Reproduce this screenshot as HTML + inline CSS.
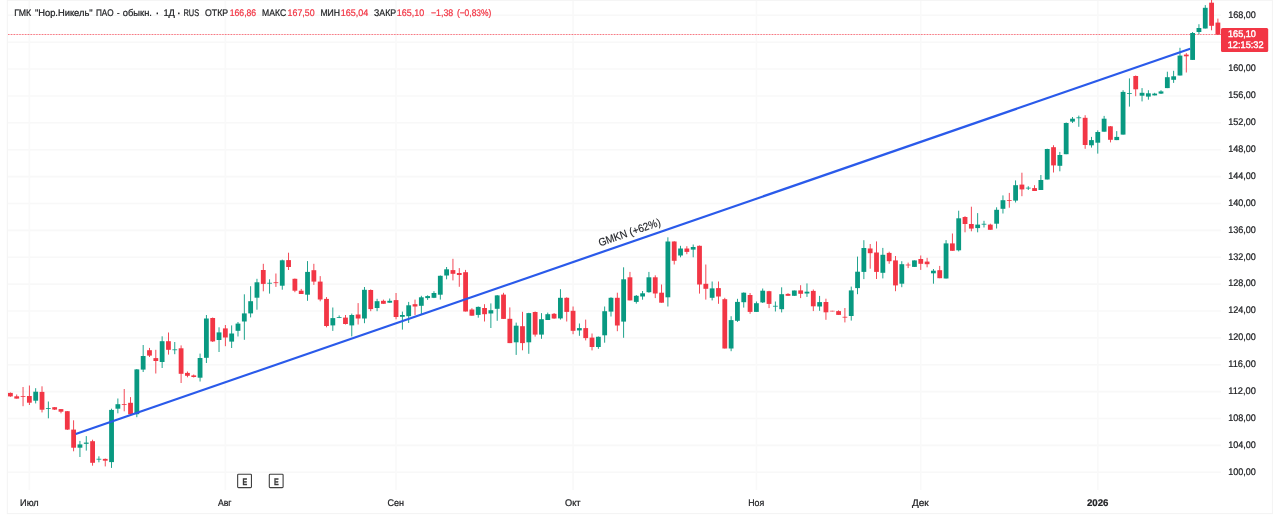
<!DOCTYPE html>
<html lang="ru"><head><meta charset="utf-8"><title>GMKN</title>
<style>html,body{margin:0;padding:0;background:#fff;}body{width:1280px;height:520px;overflow:hidden;}svg{display:block;}text{font-family:"Liberation Sans", sans-serif;text-rendering:geometricPrecision;}</style></head><body>
<svg width="1280" height="520" viewBox="0 0 1280 520">
<rect x="0" y="0" width="1280" height="520" fill="#ffffff"/>
<rect x="7.3" y="0.3" width="1265.1" height="513.3" fill="none" stroke="#f3f3f3" stroke-width="1"/>
<g stroke="#f8f8f8" stroke-width="1.6"><line x1="8" y1="472.26" x2="1221" y2="472.26"/><line x1="8" y1="445.38" x2="1221" y2="445.38"/><line x1="8" y1="418.50" x2="1221" y2="418.50"/><line x1="8" y1="391.62" x2="1221" y2="391.62"/><line x1="8" y1="364.74" x2="1221" y2="364.74"/><line x1="8" y1="337.86" x2="1221" y2="337.86"/><line x1="8" y1="310.98" x2="1221" y2="310.98"/><line x1="8" y1="284.10" x2="1221" y2="284.10"/><line x1="8" y1="257.22" x2="1221" y2="257.22"/><line x1="8" y1="230.34" x2="1221" y2="230.34"/><line x1="8" y1="203.46" x2="1221" y2="203.46"/><line x1="8" y1="176.58" x2="1221" y2="176.58"/><line x1="8" y1="149.70" x2="1221" y2="149.70"/><line x1="8" y1="122.82" x2="1221" y2="122.82"/><line x1="8" y1="95.94" x2="1221" y2="95.94"/><line x1="8" y1="69.06" x2="1221" y2="69.06"/><line x1="8" y1="42.18" x2="1221" y2="42.18"/><line x1="8" y1="15.30" x2="1221" y2="15.30"/></g>
<g stroke="#f9f9f9" stroke-width="1.6"><line x1="29.37" y1="1" x2="29.37" y2="490"/><line x1="225.35" y1="1" x2="225.35" y2="490"/><line x1="396.04" y1="1" x2="396.04" y2="490"/><line x1="573.06" y1="1" x2="573.06" y2="490"/><line x1="756.40" y1="1" x2="756.40" y2="490"/><line x1="920.77" y1="1" x2="920.77" y2="490"/><line x1="1097.78" y1="1" x2="1097.78" y2="490"/></g>
<line x1="8" y1="34.5" x2="1221" y2="34.5" stroke="#f23645" stroke-width="1" stroke-dasharray="0.775 0.775" opacity="0.85"/>
<g>
<rect x="9.95" y="392.50" width="0.90" height="4.30" fill="#f23645"/>
<rect x="8.00" y="392.90" width="4.80" height="3.50" fill="#f23645"/>
<rect x="16.27" y="394.50" width="0.90" height="4.10" fill="#f23645"/>
<rect x="14.32" y="396.30" width="4.80" height="2.30" fill="#f23645"/>
<rect x="22.59" y="387.00" width="0.90" height="19.20" fill="#f23645"/>
<rect x="20.64" y="396.00" width="4.80" height="0.80" fill="#f23645"/>
<rect x="28.92" y="385.50" width="0.90" height="19.50" fill="#f23645"/>
<rect x="26.97" y="396.00" width="4.80" height="6.70" fill="#f23645"/>
<rect x="35.24" y="388.20" width="0.90" height="15.20" fill="#089981"/>
<rect x="33.29" y="391.70" width="4.80" height="9.00" fill="#089981"/>
<rect x="41.56" y="386.30" width="0.90" height="26.10" fill="#f23645"/>
<rect x="39.61" y="391.90" width="4.80" height="17.80" fill="#f23645"/>
<rect x="47.88" y="401.50" width="0.90" height="16.80" fill="#089981"/>
<rect x="45.93" y="408.10" width="4.80" height="0.80" fill="#089981"/>
<rect x="54.20" y="407.00" width="0.90" height="3.00" fill="#f23645"/>
<rect x="52.25" y="407.20" width="4.80" height="2.40" fill="#f23645"/>
<rect x="60.53" y="409.00" width="0.90" height="4.30" fill="#f23645"/>
<rect x="58.58" y="409.10" width="4.80" height="2.60" fill="#f23645"/>
<rect x="66.85" y="411.00" width="0.90" height="19.00" fill="#f23645"/>
<rect x="64.90" y="411.20" width="4.80" height="18.40" fill="#f23645"/>
<rect x="73.17" y="420.30" width="0.90" height="31.00" fill="#f23645"/>
<rect x="71.22" y="429.60" width="4.80" height="18.10" fill="#f23645"/>
<rect x="79.49" y="440.90" width="0.90" height="16.10" fill="#089981"/>
<rect x="77.54" y="444.40" width="4.80" height="3.30" fill="#089981"/>
<rect x="85.81" y="436.10" width="0.90" height="14.50" fill="#089981"/>
<rect x="83.86" y="442.60" width="4.80" height="1.20" fill="#089981"/>
<rect x="92.14" y="439.70" width="0.90" height="26.00" fill="#f23645"/>
<rect x="90.19" y="441.20" width="4.80" height="21.60" fill="#f23645"/>
<rect x="98.46" y="456.30" width="0.90" height="6.00" fill="#089981"/>
<rect x="96.51" y="458.80" width="4.80" height="0.80" fill="#089981"/>
<rect x="104.78" y="458.50" width="0.90" height="7.90" fill="#f23645"/>
<rect x="102.83" y="458.90" width="4.80" height="1.80" fill="#f23645"/>
<rect x="111.10" y="408.70" width="0.90" height="59.20" fill="#089981"/>
<rect x="109.15" y="409.90" width="4.80" height="52.20" fill="#089981"/>
<rect x="117.42" y="398.50" width="0.90" height="14.80" fill="#089981"/>
<rect x="115.47" y="404.20" width="4.80" height="4.50" fill="#089981"/>
<rect x="123.75" y="389.00" width="0.90" height="22.30" fill="#f23645"/>
<rect x="121.80" y="404.00" width="4.80" height="0.80" fill="#f23645"/>
<rect x="130.07" y="397.10" width="0.90" height="17.40" fill="#f23645"/>
<rect x="128.12" y="402.80" width="4.80" height="11.50" fill="#f23645"/>
<rect x="136.39" y="369.00" width="0.90" height="48.20" fill="#089981"/>
<rect x="134.44" y="369.40" width="4.80" height="44.80" fill="#089981"/>
<rect x="142.71" y="345.00" width="0.90" height="27.00" fill="#089981"/>
<rect x="140.76" y="356.00" width="4.80" height="13.60" fill="#089981"/>
<rect x="149.03" y="347.90" width="0.90" height="9.10" fill="#f23645"/>
<rect x="147.08" y="350.20" width="4.80" height="5.40" fill="#f23645"/>
<rect x="155.36" y="349.80" width="0.90" height="23.70" fill="#f23645"/>
<rect x="153.41" y="358.10" width="4.80" height="2.90" fill="#f23645"/>
<rect x="161.68" y="336.30" width="0.90" height="31.70" fill="#089981"/>
<rect x="159.73" y="341.20" width="4.80" height="20.80" fill="#089981"/>
<rect x="168.00" y="332.50" width="0.90" height="22.10" fill="#f23645"/>
<rect x="166.05" y="341.20" width="4.80" height="8.60" fill="#f23645"/>
<rect x="174.32" y="342.00" width="0.90" height="12.20" fill="#089981"/>
<rect x="172.37" y="349.40" width="4.80" height="0.80" fill="#089981"/>
<rect x="180.64" y="345.40" width="0.90" height="37.60" fill="#f23645"/>
<rect x="178.69" y="348.30" width="4.80" height="25.50" fill="#f23645"/>
<rect x="186.97" y="371.50" width="0.90" height="5.80" fill="#f23645"/>
<rect x="185.02" y="372.90" width="4.80" height="2.90" fill="#f23645"/>
<rect x="193.29" y="374.50" width="0.90" height="3.00" fill="#f23645"/>
<rect x="191.34" y="375.40" width="4.80" height="1.60" fill="#f23645"/>
<rect x="199.61" y="353.60" width="0.90" height="27.90" fill="#089981"/>
<rect x="197.66" y="358.00" width="4.80" height="19.70" fill="#089981"/>
<rect x="205.93" y="315.00" width="0.90" height="48.00" fill="#089981"/>
<rect x="203.98" y="318.50" width="4.80" height="39.30" fill="#089981"/>
<rect x="212.25" y="317.50" width="0.90" height="24.50" fill="#f23645"/>
<rect x="210.30" y="318.00" width="4.80" height="23.40" fill="#f23645"/>
<rect x="218.58" y="327.30" width="0.90" height="24.70" fill="#089981"/>
<rect x="216.63" y="332.40" width="4.80" height="7.60" fill="#089981"/>
<rect x="224.90" y="325.00" width="0.90" height="21.20" fill="#f23645"/>
<rect x="222.95" y="328.40" width="4.80" height="9.10" fill="#f23645"/>
<rect x="231.22" y="325.40" width="0.90" height="22.60" fill="#089981"/>
<rect x="229.27" y="333.50" width="4.80" height="8.10" fill="#089981"/>
<rect x="237.54" y="322.00" width="0.90" height="14.50" fill="#089981"/>
<rect x="235.59" y="323.60" width="4.80" height="7.20" fill="#089981"/>
<rect x="243.86" y="294.30" width="0.90" height="45.50" fill="#089981"/>
<rect x="241.91" y="313.40" width="4.80" height="8.10" fill="#089981"/>
<rect x="250.19" y="286.20" width="0.90" height="31.20" fill="#089981"/>
<rect x="248.24" y="301.20" width="4.80" height="12.20" fill="#089981"/>
<rect x="256.51" y="278.80" width="0.90" height="30.90" fill="#089981"/>
<rect x="254.56" y="282.30" width="4.80" height="15.40" fill="#089981"/>
<rect x="262.83" y="263.80" width="0.90" height="27.50" fill="#f23645"/>
<rect x="260.88" y="270.00" width="4.80" height="13.90" fill="#f23645"/>
<rect x="269.15" y="279.30" width="0.90" height="14.30" fill="#089981"/>
<rect x="267.20" y="282.80" width="4.80" height="0.80" fill="#089981"/>
<rect x="275.47" y="273.50" width="0.90" height="13.40" fill="#f23645"/>
<rect x="273.52" y="282.30" width="4.80" height="0.80" fill="#f23645"/>
<rect x="281.80" y="259.60" width="0.90" height="30.10" fill="#089981"/>
<rect x="279.85" y="260.30" width="4.80" height="25.40" fill="#089981"/>
<rect x="288.12" y="252.70" width="0.90" height="17.30" fill="#f23645"/>
<rect x="286.17" y="260.10" width="4.80" height="6.90" fill="#f23645"/>
<rect x="294.44" y="278.50" width="0.90" height="13.70" fill="#f23645"/>
<rect x="292.49" y="278.80" width="4.80" height="11.90" fill="#f23645"/>
<rect x="300.76" y="288.90" width="0.90" height="5.10" fill="#f23645"/>
<rect x="298.81" y="290.70" width="4.80" height="3.30" fill="#f23645"/>
<rect x="307.08" y="261.10" width="0.90" height="39.70" fill="#089981"/>
<rect x="305.13" y="271.90" width="4.80" height="22.80" fill="#089981"/>
<rect x="313.41" y="263.80" width="0.90" height="21.10" fill="#f23645"/>
<rect x="311.46" y="270.20" width="4.80" height="11.40" fill="#f23645"/>
<rect x="319.73" y="276.10" width="0.90" height="25.20" fill="#f23645"/>
<rect x="317.78" y="281.60" width="4.80" height="17.90" fill="#f23645"/>
<rect x="326.05" y="297.10" width="0.90" height="30.20" fill="#f23645"/>
<rect x="324.10" y="298.90" width="4.80" height="27.10" fill="#f23645"/>
<rect x="332.37" y="307.50" width="0.90" height="23.40" fill="#089981"/>
<rect x="330.42" y="318.10" width="4.80" height="7.30" fill="#089981"/>
<rect x="338.69" y="315.40" width="0.90" height="2.70" fill="#089981"/>
<rect x="336.74" y="317.20" width="4.80" height="0.80" fill="#089981"/>
<rect x="345.02" y="315.00" width="0.90" height="9.50" fill="#f23645"/>
<rect x="343.07" y="317.60" width="4.80" height="6.40" fill="#f23645"/>
<rect x="351.34" y="313.60" width="0.90" height="22.80" fill="#089981"/>
<rect x="349.39" y="315.00" width="4.80" height="10.40" fill="#089981"/>
<rect x="357.66" y="303.10" width="0.90" height="21.40" fill="#f23645"/>
<rect x="355.71" y="314.50" width="4.80" height="4.00" fill="#f23645"/>
<rect x="363.98" y="287.00" width="0.90" height="36.20" fill="#089981"/>
<rect x="362.03" y="289.80" width="4.80" height="28.70" fill="#089981"/>
<rect x="370.30" y="289.40" width="0.90" height="21.80" fill="#f23645"/>
<rect x="368.35" y="290.00" width="4.80" height="19.10" fill="#f23645"/>
<rect x="376.63" y="298.80" width="0.90" height="12.40" fill="#089981"/>
<rect x="374.68" y="301.20" width="4.80" height="6.80" fill="#089981"/>
<rect x="382.95" y="299.60" width="0.90" height="4.20" fill="#f23645"/>
<rect x="381.00" y="300.80" width="4.80" height="3.00" fill="#f23645"/>
<rect x="389.27" y="298.50" width="0.90" height="4.20" fill="#089981"/>
<rect x="387.32" y="300.80" width="4.80" height="1.90" fill="#089981"/>
<rect x="395.59" y="293.00" width="0.90" height="26.30" fill="#f23645"/>
<rect x="393.64" y="300.10" width="4.80" height="16.90" fill="#f23645"/>
<rect x="401.91" y="311.60" width="0.90" height="18.00" fill="#089981"/>
<rect x="399.96" y="315.00" width="4.80" height="1.80" fill="#089981"/>
<rect x="408.24" y="301.90" width="0.90" height="21.10" fill="#089981"/>
<rect x="406.29" y="305.30" width="4.80" height="10.90" fill="#089981"/>
<rect x="414.56" y="299.60" width="0.90" height="15.40" fill="#f23645"/>
<rect x="412.61" y="304.20" width="4.80" height="2.30" fill="#f23645"/>
<rect x="420.88" y="295.80" width="0.90" height="18.40" fill="#089981"/>
<rect x="418.93" y="297.30" width="4.80" height="8.50" fill="#089981"/>
<rect x="427.20" y="295.30" width="0.90" height="4.60" fill="#089981"/>
<rect x="425.25" y="296.10" width="4.80" height="2.00" fill="#089981"/>
<rect x="433.52" y="291.20" width="0.90" height="6.90" fill="#089981"/>
<rect x="431.57" y="293.00" width="4.80" height="4.80" fill="#089981"/>
<rect x="439.85" y="275.50" width="0.90" height="24.10" fill="#089981"/>
<rect x="437.90" y="275.80" width="4.80" height="18.90" fill="#089981"/>
<rect x="446.17" y="267.00" width="0.90" height="12.30" fill="#089981"/>
<rect x="444.22" y="269.30" width="4.80" height="6.20" fill="#089981"/>
<rect x="452.49" y="258.80" width="0.90" height="21.60" fill="#f23645"/>
<rect x="450.54" y="270.10" width="4.80" height="3.70" fill="#f23645"/>
<rect x="458.81" y="268.10" width="0.90" height="18.70" fill="#f23645"/>
<rect x="456.86" y="273.00" width="4.80" height="2.00" fill="#f23645"/>
<rect x="465.13" y="269.90" width="0.90" height="41.60" fill="#f23645"/>
<rect x="463.18" y="272.20" width="4.80" height="39.30" fill="#f23645"/>
<rect x="471.46" y="308.20" width="0.90" height="7.50" fill="#f23645"/>
<rect x="469.51" y="309.50" width="4.80" height="6.20" fill="#f23645"/>
<rect x="477.78" y="306.50" width="0.90" height="11.20" fill="#089981"/>
<rect x="475.83" y="306.90" width="4.80" height="8.00" fill="#089981"/>
<rect x="484.10" y="304.20" width="0.90" height="17.30" fill="#f23645"/>
<rect x="482.15" y="308.00" width="4.80" height="6.20" fill="#f23645"/>
<rect x="490.42" y="303.40" width="0.90" height="24.60" fill="#089981"/>
<rect x="488.47" y="310.20" width="4.80" height="3.30" fill="#089981"/>
<rect x="496.74" y="295.00" width="0.90" height="25.80" fill="#089981"/>
<rect x="494.79" y="295.40" width="4.80" height="13.40" fill="#089981"/>
<rect x="503.07" y="292.80" width="0.90" height="26.10" fill="#f23645"/>
<rect x="501.12" y="294.60" width="4.80" height="24.30" fill="#f23645"/>
<rect x="509.39" y="307.40" width="0.90" height="35.70" fill="#f23645"/>
<rect x="507.44" y="318.80" width="4.80" height="24.30" fill="#f23645"/>
<rect x="515.71" y="322.60" width="0.90" height="32.30" fill="#089981"/>
<rect x="513.76" y="325.70" width="4.80" height="16.60" fill="#089981"/>
<rect x="522.03" y="311.80" width="0.90" height="38.50" fill="#f23645"/>
<rect x="520.08" y="326.20" width="4.80" height="16.90" fill="#f23645"/>
<rect x="528.35" y="312.80" width="0.90" height="41.00" fill="#089981"/>
<rect x="526.40" y="313.10" width="4.80" height="29.20" fill="#089981"/>
<rect x="534.68" y="311.50" width="0.90" height="25.10" fill="#f23645"/>
<rect x="532.73" y="312.00" width="4.80" height="22.60" fill="#f23645"/>
<rect x="541.00" y="313.10" width="0.90" height="25.70" fill="#089981"/>
<rect x="539.05" y="319.20" width="4.80" height="15.40" fill="#089981"/>
<rect x="547.32" y="312.60" width="0.90" height="7.40" fill="#089981"/>
<rect x="545.37" y="314.20" width="4.80" height="5.80" fill="#089981"/>
<rect x="553.64" y="313.00" width="0.90" height="5.80" fill="#f23645"/>
<rect x="551.69" y="313.80" width="4.80" height="4.70" fill="#f23645"/>
<rect x="559.96" y="289.20" width="0.90" height="30.40" fill="#089981"/>
<rect x="558.01" y="297.80" width="4.80" height="20.60" fill="#089981"/>
<rect x="566.29" y="297.30" width="0.90" height="24.20" fill="#f23645"/>
<rect x="564.34" y="297.80" width="4.80" height="14.10" fill="#f23645"/>
<rect x="572.61" y="306.50" width="0.90" height="27.70" fill="#f23645"/>
<rect x="570.66" y="310.80" width="4.80" height="20.00" fill="#f23645"/>
<rect x="578.93" y="323.50" width="0.90" height="12.30" fill="#089981"/>
<rect x="576.98" y="328.10" width="4.80" height="2.30" fill="#089981"/>
<rect x="585.25" y="319.60" width="0.90" height="20.80" fill="#f23645"/>
<rect x="583.30" y="328.10" width="4.80" height="10.00" fill="#f23645"/>
<rect x="591.57" y="333.50" width="0.90" height="16.90" fill="#f23645"/>
<rect x="589.62" y="337.60" width="4.80" height="9.40" fill="#f23645"/>
<rect x="597.90" y="336.50" width="0.90" height="12.30" fill="#089981"/>
<rect x="595.95" y="336.80" width="4.80" height="10.20" fill="#089981"/>
<rect x="604.22" y="306.50" width="0.90" height="36.20" fill="#089981"/>
<rect x="602.27" y="311.20" width="4.80" height="24.10" fill="#089981"/>
<rect x="610.54" y="297.30" width="0.90" height="19.20" fill="#089981"/>
<rect x="608.59" y="297.80" width="4.80" height="13.80" fill="#089981"/>
<rect x="616.86" y="292.70" width="0.90" height="38.50" fill="#f23645"/>
<rect x="614.91" y="297.80" width="4.80" height="27.70" fill="#f23645"/>
<rect x="623.18" y="267.30" width="0.90" height="70.50" fill="#089981"/>
<rect x="621.23" y="279.30" width="4.80" height="42.30" fill="#089981"/>
<rect x="629.51" y="271.90" width="0.90" height="28.50" fill="#f23645"/>
<rect x="627.56" y="277.30" width="4.80" height="23.10" fill="#f23645"/>
<rect x="635.83" y="295.00" width="0.90" height="8.60" fill="#089981"/>
<rect x="633.88" y="295.80" width="4.80" height="6.10" fill="#089981"/>
<rect x="642.15" y="291.00" width="0.90" height="8.70" fill="#089981"/>
<rect x="640.20" y="293.30" width="4.80" height="3.20" fill="#089981"/>
<rect x="648.47" y="271.90" width="0.90" height="20.80" fill="#089981"/>
<rect x="646.52" y="277.30" width="4.80" height="14.90" fill="#089981"/>
<rect x="654.79" y="275.30" width="0.90" height="22.80" fill="#f23645"/>
<rect x="652.84" y="277.30" width="4.80" height="16.20" fill="#f23645"/>
<rect x="661.12" y="284.50" width="0.90" height="18.20" fill="#f23645"/>
<rect x="659.17" y="292.70" width="4.80" height="10.00" fill="#f23645"/>
<rect x="667.44" y="237.30" width="0.90" height="69.20" fill="#089981"/>
<rect x="665.49" y="241.50" width="4.80" height="55.80" fill="#089981"/>
<rect x="673.76" y="241.20" width="0.90" height="23.30" fill="#f23645"/>
<rect x="671.81" y="241.50" width="4.80" height="19.30" fill="#f23645"/>
<rect x="680.08" y="245.80" width="0.90" height="11.50" fill="#089981"/>
<rect x="678.13" y="248.50" width="4.80" height="7.00" fill="#089981"/>
<rect x="686.40" y="246.20" width="0.90" height="8.00" fill="#f23645"/>
<rect x="684.45" y="248.50" width="4.80" height="3.40" fill="#f23645"/>
<rect x="692.73" y="244.50" width="0.90" height="12.80" fill="#089981"/>
<rect x="690.78" y="247.00" width="4.80" height="2.60" fill="#089981"/>
<rect x="699.05" y="245.50" width="0.90" height="48.10" fill="#f23645"/>
<rect x="697.10" y="245.80" width="4.80" height="38.70" fill="#f23645"/>
<rect x="705.37" y="264.50" width="0.90" height="35.10" fill="#f23645"/>
<rect x="703.42" y="283.80" width="4.80" height="5.00" fill="#f23645"/>
<rect x="711.69" y="281.50" width="0.90" height="18.90" fill="#089981"/>
<rect x="709.74" y="288.40" width="4.80" height="9.40" fill="#089981"/>
<rect x="718.01" y="281.50" width="0.90" height="22.30" fill="#f23645"/>
<rect x="716.06" y="288.10" width="4.80" height="8.40" fill="#f23645"/>
<rect x="724.34" y="297.80" width="0.90" height="50.70" fill="#f23645"/>
<rect x="722.39" y="299.20" width="4.80" height="49.30" fill="#f23645"/>
<rect x="730.66" y="316.20" width="0.90" height="35.00" fill="#089981"/>
<rect x="728.71" y="320.10" width="4.80" height="28.40" fill="#089981"/>
<rect x="736.98" y="298.80" width="0.90" height="23.10" fill="#089981"/>
<rect x="735.03" y="301.90" width="4.80" height="18.90" fill="#089981"/>
<rect x="743.30" y="292.40" width="0.90" height="15.20" fill="#089981"/>
<rect x="741.35" y="292.70" width="4.80" height="9.50" fill="#089981"/>
<rect x="749.62" y="293.00" width="0.90" height="20.80" fill="#f23645"/>
<rect x="747.67" y="295.00" width="4.80" height="16.90" fill="#f23645"/>
<rect x="755.95" y="301.50" width="0.90" height="10.40" fill="#089981"/>
<rect x="754.00" y="303.20" width="4.80" height="8.70" fill="#089981"/>
<rect x="762.27" y="288.50" width="0.90" height="14.50" fill="#089981"/>
<rect x="760.32" y="290.70" width="4.80" height="11.70" fill="#089981"/>
<rect x="768.59" y="290.80" width="0.90" height="17.30" fill="#f23645"/>
<rect x="766.64" y="291.20" width="4.80" height="12.70" fill="#f23645"/>
<rect x="774.91" y="301.50" width="0.90" height="10.00" fill="#089981"/>
<rect x="772.96" y="305.80" width="4.80" height="0.80" fill="#089981"/>
<rect x="781.23" y="287.30" width="0.90" height="25.10" fill="#089981"/>
<rect x="779.28" y="294.20" width="4.80" height="15.00" fill="#089981"/>
<rect x="787.56" y="293.20" width="0.90" height="2.60" fill="#f23645"/>
<rect x="785.61" y="293.90" width="4.80" height="1.90" fill="#f23645"/>
<rect x="793.88" y="290.50" width="0.90" height="5.40" fill="#089981"/>
<rect x="791.93" y="290.50" width="4.80" height="5.30" fill="#089981"/>
<rect x="800.20" y="285.20" width="0.90" height="12.90" fill="#f23645"/>
<rect x="798.25" y="290.40" width="4.80" height="3.40" fill="#f23645"/>
<rect x="806.52" y="283.40" width="0.90" height="13.50" fill="#089981"/>
<rect x="804.57" y="291.70" width="4.80" height="1.80" fill="#089981"/>
<rect x="812.84" y="289.50" width="0.90" height="21.60" fill="#f23645"/>
<rect x="810.89" y="290.90" width="4.80" height="15.40" fill="#f23645"/>
<rect x="819.17" y="295.90" width="0.90" height="14.90" fill="#089981"/>
<rect x="817.22" y="302.10" width="4.80" height="4.40" fill="#089981"/>
<rect x="825.49" y="298.70" width="0.90" height="21.10" fill="#f23645"/>
<rect x="823.54" y="302.00" width="4.80" height="10.30" fill="#f23645"/>
<rect x="831.81" y="310.80" width="0.90" height="0.60" fill="#f23645"/>
<rect x="829.86" y="310.80" width="4.80" height="0.60" fill="#f23645"/>
<rect x="838.13" y="310.30" width="0.90" height="4.60" fill="#f23645"/>
<rect x="836.18" y="311.10" width="4.80" height="3.80" fill="#f23645"/>
<rect x="844.45" y="308.00" width="0.90" height="14.40" fill="#f23645"/>
<rect x="842.50" y="316.80" width="4.80" height="0.80" fill="#f23645"/>
<rect x="850.78" y="286.60" width="0.90" height="34.00" fill="#089981"/>
<rect x="848.83" y="290.40" width="4.80" height="25.60" fill="#089981"/>
<rect x="857.10" y="256.60" width="0.90" height="37.60" fill="#089981"/>
<rect x="855.15" y="271.70" width="4.80" height="16.40" fill="#089981"/>
<rect x="863.42" y="240.20" width="0.90" height="38.90" fill="#089981"/>
<rect x="861.47" y="248.00" width="4.80" height="23.90" fill="#089981"/>
<rect x="869.74" y="244.00" width="0.90" height="24.70" fill="#f23645"/>
<rect x="867.79" y="248.50" width="4.80" height="4.70" fill="#f23645"/>
<rect x="876.06" y="241.40" width="0.90" height="37.60" fill="#f23645"/>
<rect x="874.11" y="252.50" width="4.80" height="19.40" fill="#f23645"/>
<rect x="882.39" y="247.90" width="0.90" height="30.50" fill="#089981"/>
<rect x="880.44" y="254.80" width="4.80" height="18.00" fill="#089981"/>
<rect x="888.71" y="251.70" width="0.90" height="12.10" fill="#f23645"/>
<rect x="886.76" y="252.90" width="4.80" height="8.30" fill="#f23645"/>
<rect x="895.03" y="256.00" width="0.90" height="35.20" fill="#f23645"/>
<rect x="893.08" y="260.40" width="4.80" height="25.00" fill="#f23645"/>
<rect x="901.35" y="261.20" width="0.90" height="26.00" fill="#089981"/>
<rect x="899.40" y="264.20" width="4.80" height="19.50" fill="#089981"/>
<rect x="907.67" y="262.60" width="0.90" height="5.50" fill="#f23645"/>
<rect x="905.72" y="264.60" width="4.80" height="0.80" fill="#f23645"/>
<rect x="914.00" y="260.40" width="0.90" height="6.50" fill="#089981"/>
<rect x="912.05" y="260.40" width="4.80" height="6.50" fill="#089981"/>
<rect x="920.32" y="255.50" width="0.90" height="14.40" fill="#f23645"/>
<rect x="918.37" y="259.00" width="4.80" height="4.80" fill="#f23645"/>
<rect x="926.64" y="257.80" width="0.90" height="9.50" fill="#f23645"/>
<rect x="924.69" y="261.60" width="4.80" height="2.60" fill="#f23645"/>
<rect x="932.96" y="269.00" width="0.90" height="14.70" fill="#089981"/>
<rect x="931.01" y="270.70" width="4.80" height="2.60" fill="#089981"/>
<rect x="939.28" y="265.90" width="0.90" height="12.30" fill="#f23645"/>
<rect x="937.33" y="270.20" width="4.80" height="8.00" fill="#f23645"/>
<rect x="945.61" y="240.10" width="0.90" height="38.40" fill="#089981"/>
<rect x="943.66" y="243.40" width="4.80" height="35.10" fill="#089981"/>
<rect x="951.93" y="233.50" width="0.90" height="17.30" fill="#f23645"/>
<rect x="949.98" y="243.40" width="4.80" height="7.40" fill="#f23645"/>
<rect x="958.25" y="210.70" width="0.90" height="40.70" fill="#089981"/>
<rect x="956.30" y="218.30" width="4.80" height="32.00" fill="#089981"/>
<rect x="964.57" y="216.20" width="0.90" height="16.10" fill="#f23645"/>
<rect x="962.62" y="217.00" width="4.80" height="7.00" fill="#f23645"/>
<rect x="970.89" y="206.70" width="0.90" height="24.60" fill="#f23645"/>
<rect x="968.94" y="224.00" width="4.80" height="4.60" fill="#f23645"/>
<rect x="977.22" y="213.10" width="0.90" height="19.20" fill="#089981"/>
<rect x="975.27" y="224.60" width="4.80" height="3.50" fill="#089981"/>
<rect x="983.54" y="220.80" width="0.90" height="6.70" fill="#089981"/>
<rect x="981.59" y="223.80" width="4.80" height="0.80" fill="#089981"/>
<rect x="989.86" y="223.70" width="0.90" height="6.10" fill="#f23645"/>
<rect x="987.91" y="224.60" width="4.80" height="5.20" fill="#f23645"/>
<rect x="996.18" y="207.30" width="0.90" height="21.20" fill="#089981"/>
<rect x="994.23" y="209.80" width="4.80" height="13.90" fill="#089981"/>
<rect x="1002.50" y="195.40" width="0.90" height="18.10" fill="#089981"/>
<rect x="1000.55" y="200.20" width="4.80" height="8.60" fill="#089981"/>
<rect x="1008.83" y="192.90" width="0.90" height="14.80" fill="#f23645"/>
<rect x="1006.88" y="200.00" width="4.80" height="0.80" fill="#f23645"/>
<rect x="1015.15" y="180.40" width="0.90" height="22.10" fill="#089981"/>
<rect x="1013.20" y="185.20" width="4.80" height="15.40" fill="#089981"/>
<rect x="1021.47" y="172.70" width="0.90" height="23.50" fill="#f23645"/>
<rect x="1019.52" y="184.60" width="4.80" height="4.80" fill="#f23645"/>
<rect x="1027.79" y="186.20" width="0.90" height="3.80" fill="#089981"/>
<rect x="1025.84" y="187.70" width="4.80" height="0.80" fill="#089981"/>
<rect x="1034.11" y="185.20" width="0.90" height="5.80" fill="#f23645"/>
<rect x="1032.16" y="188.10" width="4.80" height="2.90" fill="#f23645"/>
<rect x="1040.44" y="175.00" width="0.90" height="15.00" fill="#089981"/>
<rect x="1038.49" y="180.00" width="4.80" height="10.00" fill="#089981"/>
<rect x="1046.76" y="148.70" width="0.90" height="30.80" fill="#089981"/>
<rect x="1044.81" y="149.00" width="4.80" height="30.50" fill="#089981"/>
<rect x="1053.08" y="145.20" width="0.90" height="27.30" fill="#f23645"/>
<rect x="1051.13" y="147.20" width="4.80" height="18.20" fill="#f23645"/>
<rect x="1059.40" y="151.90" width="0.90" height="19.40" fill="#089981"/>
<rect x="1057.45" y="155.00" width="4.80" height="10.80" fill="#089981"/>
<rect x="1065.72" y="122.50" width="0.90" height="31.70" fill="#089981"/>
<rect x="1063.77" y="123.00" width="4.80" height="31.20" fill="#089981"/>
<rect x="1072.05" y="117.00" width="0.90" height="6.00" fill="#089981"/>
<rect x="1070.10" y="118.70" width="4.80" height="2.90" fill="#089981"/>
<rect x="1078.37" y="115.60" width="0.90" height="11.20" fill="#089981"/>
<rect x="1076.42" y="117.40" width="4.80" height="0.80" fill="#089981"/>
<rect x="1084.69" y="115.20" width="0.90" height="33.60" fill="#f23645"/>
<rect x="1082.74" y="117.80" width="4.80" height="27.20" fill="#f23645"/>
<rect x="1091.01" y="136.90" width="0.90" height="10.70" fill="#089981"/>
<rect x="1089.06" y="140.10" width="4.80" height="5.20" fill="#089981"/>
<rect x="1097.33" y="130.30" width="0.90" height="23.30" fill="#089981"/>
<rect x="1095.38" y="132.00" width="4.80" height="10.70" fill="#089981"/>
<rect x="1103.66" y="115.90" width="0.90" height="15.80" fill="#089981"/>
<rect x="1101.71" y="118.70" width="4.80" height="13.00" fill="#089981"/>
<rect x="1109.98" y="126.00" width="0.90" height="16.40" fill="#f23645"/>
<rect x="1108.03" y="126.30" width="4.80" height="13.50" fill="#f23645"/>
<rect x="1116.30" y="131.10" width="0.90" height="9.00" fill="#089981"/>
<rect x="1114.35" y="136.90" width="4.80" height="3.20" fill="#089981"/>
<rect x="1122.62" y="90.20" width="0.90" height="44.40" fill="#089981"/>
<rect x="1120.67" y="91.90" width="4.80" height="42.70" fill="#089981"/>
<rect x="1128.94" y="78.40" width="0.90" height="28.20" fill="#089981"/>
<rect x="1126.99" y="93.20" width="4.80" height="0.80" fill="#089981"/>
<rect x="1135.27" y="75.50" width="0.90" height="20.70" fill="#f23645"/>
<rect x="1133.32" y="76.00" width="4.80" height="13.30" fill="#f23645"/>
<rect x="1141.59" y="88.10" width="0.90" height="13.30" fill="#089981"/>
<rect x="1139.64" y="92.80" width="4.80" height="2.90" fill="#089981"/>
<rect x="1147.91" y="90.20" width="0.90" height="9.50" fill="#089981"/>
<rect x="1145.96" y="93.30" width="4.80" height="3.30" fill="#089981"/>
<rect x="1154.23" y="92.80" width="0.90" height="2.60" fill="#089981"/>
<rect x="1152.28" y="93.60" width="4.80" height="1.80" fill="#089981"/>
<rect x="1160.55" y="90.20" width="0.90" height="3.80" fill="#089981"/>
<rect x="1158.60" y="91.40" width="4.80" height="2.20" fill="#089981"/>
<rect x="1166.88" y="71.70" width="0.90" height="16.40" fill="#089981"/>
<rect x="1164.93" y="77.20" width="4.80" height="10.90" fill="#089981"/>
<rect x="1173.20" y="70.80" width="0.90" height="12.10" fill="#089981"/>
<rect x="1171.25" y="76.30" width="4.80" height="3.50" fill="#089981"/>
<rect x="1179.52" y="47.80" width="0.90" height="27.70" fill="#089981"/>
<rect x="1177.57" y="55.60" width="4.80" height="19.90" fill="#089981"/>
<rect x="1185.84" y="53.10" width="0.90" height="19.40" fill="#f23645"/>
<rect x="1183.89" y="54.60" width="4.80" height="1.70" fill="#f23645"/>
<rect x="1192.16" y="32.00" width="0.90" height="27.90" fill="#089981"/>
<rect x="1190.21" y="33.00" width="4.80" height="26.90" fill="#089981"/>
<rect x="1198.49" y="24.20" width="0.90" height="10.10" fill="#089981"/>
<rect x="1196.54" y="28.00" width="4.80" height="4.00" fill="#089981"/>
<rect x="1204.81" y="5.10" width="0.90" height="23.40" fill="#089981"/>
<rect x="1202.86" y="7.80" width="4.80" height="20.70" fill="#089981"/>
<rect x="1211.13" y="0.00" width="0.90" height="30.30" fill="#f23645"/>
<rect x="1209.18" y="2.70" width="4.80" height="23.10" fill="#f23645"/>
<rect x="1217.45" y="18.60" width="0.90" height="16.10" fill="#f23645"/>
<rect x="1215.50" y="22.60" width="4.80" height="12.10" fill="#f23645"/>
</g>
<line x1="75.7" y1="434.0" x2="1190.2" y2="48.7" stroke="#2a5aea" stroke-width="2.2" stroke-linecap="butt"/>
<text transform="translate(632.6 241.5) rotate(-19.07)" x="0" y="-6.0" font-size="10.9" fill="#222326" stroke="#131722" stroke-width="0.15" text-anchor="middle" textLength="65" lengthAdjust="spacingAndGlyphs">GMKN (+62%)</text>
<text x="14.3" y="16.3" font-size="9.6" fill="#222326" stroke="#222326" stroke-width="0.24" textLength="16.9" lengthAdjust="spacingAndGlyphs">ГМК</text>
<text x="34.9" y="16.3" font-size="9.6" fill="#222326" stroke="#222326" stroke-width="0.24" textLength="57.7" lengthAdjust="spacingAndGlyphs">&quot;Нор.Никель&quot;</text>
<text x="96.0" y="16.3" font-size="9.6" fill="#222326" stroke="#222326" stroke-width="0.24" textLength="17.5" lengthAdjust="spacingAndGlyphs">ПАО</text>
<text x="116.9" y="16.3" font-size="9.6" fill="#222326" stroke="#222326" stroke-width="0.24" textLength="2.6" lengthAdjust="spacingAndGlyphs">-</text>
<text x="122.8" y="16.3" font-size="9.6" fill="#222326" stroke="#222326" stroke-width="0.24" textLength="29.1" lengthAdjust="spacingAndGlyphs">обыкн.</text>
<text x="156.1" y="16.3" font-size="9.6" fill="#222326" stroke="#222326" stroke-width="0.7" textLength="2.6" lengthAdjust="spacingAndGlyphs">·</text>
<text x="163.4" y="16.3" font-size="9.6" fill="#222326" stroke="#222326" stroke-width="0.24" textLength="11.6" lengthAdjust="spacingAndGlyphs">1Д</text>
<text x="177.6" y="16.3" font-size="9.6" fill="#222326" stroke="#222326" stroke-width="0.7" textLength="2.6" lengthAdjust="spacingAndGlyphs">·</text>
<text x="183.5" y="16.3" font-size="9.6" fill="#222326" stroke="#222326" stroke-width="0.24" textLength="15.7" lengthAdjust="spacingAndGlyphs">RUS</text>
<text x="205.1" y="16.3" font-size="9.6" fill="#222326" stroke="#222326" stroke-width="0.24" textLength="23.0" lengthAdjust="spacingAndGlyphs">ОТКР</text>
<text x="229.7" y="16.3" font-size="9.6" fill="#f23645" stroke="#f23645" stroke-width="0.24" textLength="26.5" lengthAdjust="spacingAndGlyphs">166,86</text>
<text x="262.1" y="16.3" font-size="9.6" fill="#222326" stroke="#222326" stroke-width="0.24" textLength="24.0" lengthAdjust="spacingAndGlyphs">МАКС</text>
<text x="287.6" y="16.3" font-size="9.6" fill="#f23645" stroke="#f23645" stroke-width="0.24" textLength="27.0" lengthAdjust="spacingAndGlyphs">167,50</text>
<text x="320.4" y="16.3" font-size="9.6" fill="#222326" stroke="#222326" stroke-width="0.24" textLength="19.7" lengthAdjust="spacingAndGlyphs">МИН</text>
<text x="340.7" y="16.3" font-size="9.6" fill="#f23645" stroke="#f23645" stroke-width="0.24" textLength="27.5" lengthAdjust="spacingAndGlyphs">165,04</text>
<text x="374.1" y="16.3" font-size="9.6" fill="#222326" stroke="#222326" stroke-width="0.24" textLength="22.0" lengthAdjust="spacingAndGlyphs">ЗАКР</text>
<text x="396.8" y="16.3" font-size="9.6" fill="#f23645" stroke="#f23645" stroke-width="0.24" textLength="27.4" lengthAdjust="spacingAndGlyphs">165,10</text>
<text x="430.9" y="16.3" font-size="9.6" fill="#f23645" stroke="#f23645" stroke-width="0.24" textLength="22.3" lengthAdjust="spacingAndGlyphs">−1,38</text>
<text x="456.9" y="16.3" font-size="9.6" fill="#f23645" stroke="#f23645" stroke-width="0.24" textLength="34.4" lengthAdjust="spacingAndGlyphs">(−0,83%)</text>
<text x="1228.2" y="474.6" font-size="9.6" fill="#222326" stroke="#222326" stroke-width="0.24" textLength="27.7" lengthAdjust="spacingAndGlyphs">100,00</text>
<text x="1228.2" y="447.7" font-size="9.6" fill="#222326" stroke="#222326" stroke-width="0.24" textLength="27.7" lengthAdjust="spacingAndGlyphs">104,00</text>
<text x="1228.2" y="420.8" font-size="9.6" fill="#222326" stroke="#222326" stroke-width="0.24" textLength="27.7" lengthAdjust="spacingAndGlyphs">108,00</text>
<text x="1228.2" y="393.9" font-size="9.6" fill="#222326" stroke="#222326" stroke-width="0.24" textLength="27.7" lengthAdjust="spacingAndGlyphs">112,00</text>
<text x="1228.2" y="367.0" font-size="9.6" fill="#222326" stroke="#222326" stroke-width="0.24" textLength="27.7" lengthAdjust="spacingAndGlyphs">116,00</text>
<text x="1228.2" y="340.2" font-size="9.6" fill="#222326" stroke="#222326" stroke-width="0.24" textLength="27.7" lengthAdjust="spacingAndGlyphs">120,00</text>
<text x="1228.2" y="313.3" font-size="9.6" fill="#222326" stroke="#222326" stroke-width="0.24" textLength="27.7" lengthAdjust="spacingAndGlyphs">124,00</text>
<text x="1228.2" y="286.4" font-size="9.6" fill="#222326" stroke="#222326" stroke-width="0.24" textLength="27.7" lengthAdjust="spacingAndGlyphs">128,00</text>
<text x="1228.2" y="259.5" font-size="9.6" fill="#222326" stroke="#222326" stroke-width="0.24" textLength="27.7" lengthAdjust="spacingAndGlyphs">132,00</text>
<text x="1228.2" y="232.6" font-size="9.6" fill="#222326" stroke="#222326" stroke-width="0.24" textLength="27.7" lengthAdjust="spacingAndGlyphs">136,00</text>
<text x="1228.2" y="205.8" font-size="9.6" fill="#222326" stroke="#222326" stroke-width="0.24" textLength="27.7" lengthAdjust="spacingAndGlyphs">140,00</text>
<text x="1228.2" y="178.9" font-size="9.6" fill="#222326" stroke="#222326" stroke-width="0.24" textLength="27.7" lengthAdjust="spacingAndGlyphs">144,00</text>
<text x="1228.2" y="152.0" font-size="9.6" fill="#222326" stroke="#222326" stroke-width="0.24" textLength="27.7" lengthAdjust="spacingAndGlyphs">148,00</text>
<text x="1228.2" y="125.1" font-size="9.6" fill="#222326" stroke="#222326" stroke-width="0.24" textLength="27.7" lengthAdjust="spacingAndGlyphs">152,00</text>
<text x="1228.2" y="98.2" font-size="9.6" fill="#222326" stroke="#222326" stroke-width="0.24" textLength="27.7" lengthAdjust="spacingAndGlyphs">156,00</text>
<text x="1228.2" y="71.4" font-size="9.6" fill="#222326" stroke="#222326" stroke-width="0.24" textLength="27.7" lengthAdjust="spacingAndGlyphs">160,00</text>
<text x="1228.2" y="17.6" font-size="9.6" fill="#222326" stroke="#222326" stroke-width="0.24" textLength="27.7" lengthAdjust="spacingAndGlyphs">168,00</text>
<rect x="1221" y="28" width="47.2" height="24.1" rx="1.6" fill="#f23645"/>
<text x="1228.0" y="37.0" font-size="9.6" fill="#ffffff" stroke="#ffffff" stroke-width="0.4" textLength="27.9" lengthAdjust="spacingAndGlyphs">165,10</text>
<text x="1227.7" y="47.7" font-size="9.6" fill="#ffffff" stroke="#ffffff" stroke-width="0.4" textLength="35.9" lengthAdjust="spacingAndGlyphs">12:15:32</text>
<text x="20.1" y="505.9" font-size="9.6" fill="#222326" stroke="#222326" stroke-width="0.24" textLength="18.6" lengthAdjust="spacingAndGlyphs">Июл</text>
<text x="217.9" y="505.9" font-size="9.6" fill="#222326" stroke="#222326" stroke-width="0.24" textLength="13.6" lengthAdjust="spacingAndGlyphs">Авг</text>
<text x="387.6" y="505.9" font-size="9.6" fill="#222326" stroke="#222326" stroke-width="0.24" textLength="16.5" lengthAdjust="spacingAndGlyphs">Сен</text>
<text x="565.0" y="505.9" font-size="9.6" fill="#222326" stroke="#222326" stroke-width="0.24" textLength="15.5" lengthAdjust="spacingAndGlyphs">Окт</text>
<text x="748.2" y="505.9" font-size="9.6" fill="#222326" stroke="#222326" stroke-width="0.24" textLength="16.0" lengthAdjust="spacingAndGlyphs">Ноя</text>
<text x="912.0" y="505.9" font-size="9.6" fill="#222326" stroke="#222326" stroke-width="0.24" textLength="16.7" lengthAdjust="spacingAndGlyphs">Дек</text>
<text x="1087.0" y="505.9" font-size="9.6" fill="#222326" stroke="#222326" stroke-width="0.24" font-weight="bold" textLength="21.5" lengthAdjust="spacingAndGlyphs">2026</text>
<rect x="237.65" y="474.2" width="13.8" height="13.4" rx="0.9" fill="#fff" stroke="#3f3f3f" stroke-width="1.1"/>
<text x="242.45" y="484.7" font-size="9.5" font-weight="bold" fill="#3a3a3a" stroke="#3a3a3a" stroke-width="0.35" textLength="4.7" lengthAdjust="spacingAndGlyphs">E</text>
<rect x="269.30" y="474.2" width="13.8" height="13.4" rx="0.9" fill="#fff" stroke="#3f3f3f" stroke-width="1.1"/>
<text x="274.10" y="484.7" font-size="9.5" font-weight="bold" fill="#3a3a3a" stroke="#3a3a3a" stroke-width="0.35" textLength="4.7" lengthAdjust="spacingAndGlyphs">E</text>
</svg></body></html>
